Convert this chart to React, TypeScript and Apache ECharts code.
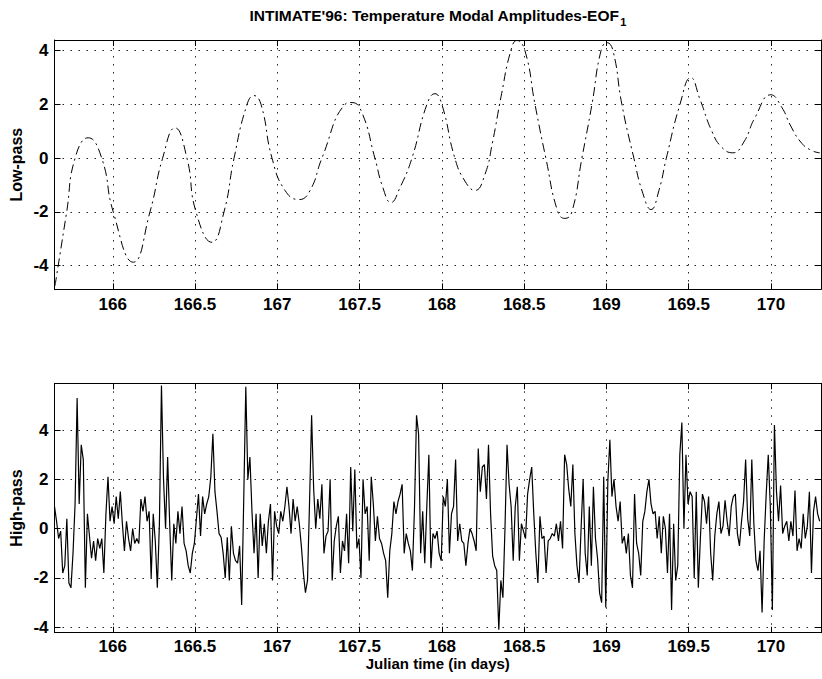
import React, { useEffect, useRef } from 'react';
import * as echarts from 'echarts';

// ---- axis ranges ----
const xMin = 165.646;
const xMax = 170.304;
const lowYMin = -4.878;
const lowYMax = 4.398;
const highYMin = -4.219;
const highYMax = 5.894;

// ---- labels ----
const titleMain = "INTIMATE'96: Temperature Modal Amplitudes-EOF";
const titleSub = '1';
const lowLabel = 'Low-pass';
const highLabel = 'High-pass';
const xLabel = 'Julian time (in days)';

// ---- low-pass series (Julian day, amplitude) ----
const lowTimes = [
  165.649, 165.72, 165.771, 165.851, 165.933, 166.003, 166.125, 166.226, 166.303, 166.378,
  166.451, 166.506, 166.603, 166.676, 166.737, 166.816, 166.858, 166.901, 166.968, 167.047,
  167.132, 167.199, 167.271, 167.411, 167.454, 167.514, 167.593, 167.642, 167.69, 167.745,
  167.818, 167.909, 167.958, 168.0, 168.079, 168.14, 168.201, 168.262, 168.308, 168.36,
  168.419, 168.456, 168.505, 168.566, 168.632, 168.705, 168.748, 168.79, 168.851, 168.912,
  168.967, 169.003, 169.04, 169.094, 169.167, 169.221, 169.271, 169.319, 169.364, 169.447,
  169.513, 169.568, 169.641, 169.702, 169.768, 169.835, 169.902, 169.999, 170.065, 170.12,
  170.181, 170.242, 170.297,
];
const lowValues = [
  -4.75, -2, 0, 0.76, 0, -2, -3.87, -2, 0, 1.13,
  0, -2, -3.13, -2, 0, 2, 2.33, 2, 0, -1.2,
  -1.54, -1.2, 0, 2, 2.07, 1.7, 0, -1.1, -1.65, -1.1,
  0, 2, 2.4, 2, 0, -0.85, -1.2, -0.6, 0.6, 2.3,
  4, 4.38, 4, 2, 0, -2, -2.24, -2, 0, 2,
  4, 4.3, 4, 2, 0, -1.3, -1.91, -1.2, 0, 2,
  3.0, 2.2, 1.0, 0.4, 0.2, 0.6, 1.5, 2.36, 1.9, 1.2,
  0.6, 0.3, 0.2,
];

// ---- high-pass series: samples every 0.0125 day from highStart ----
const highStart = 165.646;
const highStep = 0.0125;
const highValues = [
  0.9, 0.3, -0.4, -0.1, -1.8, -1.5, 0.4, -2.2, -2.4, -1.0,
  1.0, 5.3, 1.0, 3.4, 2.8, -2.4, 0.6, -0.3, -1.2, -0.5,
  -1.3, -0.4, -0.8, -0.4, -1.8, 0.6, 2.1, 0.3, 0.9, 0.2,
  1.3, 0.4, 1.5, 0.2, -0.9, 0.3, -0.4, -0.9, 0.0, -0.6,
  -0.4, -0.6, 1.2, 0.7, 1.3, 0.3, 0.7, -2.0, 0.6, -0.5,
  -2.4, 0.2, 5.8, 2.0, 0.0, 2.9, 0.2, -2.1, 0.2, -0.6,
  0.7, -0.2,
  0.9, -0.6, -0.9, -1.5, -1.8, -1.0, -0.6, 0.4, 1.4, -0.3,
  1.3, 0.6, 1.0, 1.3, 2.1, 3.85, 1.5, 0.7, -0.2, -0.35,
  -1.0, -2.0, -0.35, -2.1, 0.1, -1.0, -1.3, -1.4, -0.7, -3.1,
  1.2, 5.75, 2.0, 2.9, 0.7, -1.0, 0.6, -2.0, 0.6, -0.7,
  0.2, -1.0, 0.3, 1.0, -2.1, 0.7, 0.1, -0.2, 0.7, 0.3,
  0.9, 1.7, 0.9, -0.2, 1.2, 0.3, 0.9, 0.2, -0.7, -1.8,
  -2.6, -2.1, 1.1,
  4.6, 1.6, 0.0, 1.2, 0.4, 1.8, -1.0, -0.3, -0.1, 2.0,
  -2.1, -0.5, 0.1, 0.5, -1.8, -0.5, -0.9, 0.6, -1.4, 2.5,
  -0.1, 2.4, -0.8, -0.4, -2.0, 2.0, 0.6, 0.9, -1.3, 2.1,
  1.0, -0.5, 0.5, -0.4, -0.6, -1.0, -1.3, -2.8, -0.9, -0.2,
  1.1, 0.6, 1.1, 1.4, 1.8, -1.0, -0.2, -0.6, -0.9, -1.7,
  0.8, 4.6, 3.85, -1.0, 0.7, -1.4, 0.9, 3.0, -1.6, -0.2,
  -0.4,
  -0.1, -1.0, -1.3, 1.3, 0.9, 2.0, -1.0, 0.6, 0.9, 2.8,
  -0.5, 0.2, -0.5, -0.6, -1.5, -0.6, 0.0, -0.2, -0.5, -0.9,
  3.25, 1.5, 2.5, 2.6, 1.2, 3.4, 0.6, -1.1, -1.5, -1.7,
  -4.1, -2.1, -2.8, 0.0, 3.4, 1.8, 0.9, -1.3, 0.9, 1.7,
  -1.3, 0.2, -0.1, -0.4, 1.4, 2.0, 2.5, 0.6, -1.0, -2.2,
  0.5, -0.4, -0.3, -1.8, -0.5, -0.4, -0.2, -0.3, 0.2, -0.5,
  0.3,
  -0.8, 3.0, 2.6, 1.6, 0.9, 2.6, -0.2, -1.5, -2.2, 0.0,
  2.0, -1.0, -1.9, 0.9, -1.5, 1.7, -0.4, -1.2, -2.6, -3.0,
  2.1, -3.2, 1.9, 3.6, 1.3, 2.0, 0.9, 0.3, 1.1, -0.6,
  -0.3, -1.0, -0.2, -1.9, -2.4, 1.4, -0.6, -1.0, -1.9, 0.3,
  0.7, 1.5, 2.0, 1.0, 0.6, 0.7, -0.4, 0.5, -1.0, 0.5,
  0.0, -1.8, 0.6, -3.3, 0.2, -2.1, -1.5, 3.0, 4.3, 0.0,
  3.0,
  1.0, 1.5, 1.3, -2.0, 1.5, -2.4, -0.4, 1.4, 1.1, 0.2,
  1.3, -1.0, -2.1, -0.3, 0.6, 1.1, -0.2, 0.1, 1.15, 0.3,
  -0.3, 0.9, 1.3, 1.4, -0.2, -0.7, 0.3, 1.1, 2.8, 0.4,
  -0.3, 2.8, 0.2, -1.3, -1.7, -0.9, -3.4, -0.5, 1.4, 3.0,
  0.9, -3.3, 4.2, 1.5, 0.3, 1.75, -0.2, 0.1, 0.3, -0.5,
  0.3, -0.3, 1.55, -0.9, -0.4, -0.8, 0.6, -0.4, 0.1, 1.5,
  -1.8, 0.7, 1.3, 0.6, 0.3,
];

const FONT = "'Liberation Sans', Arial, Helvetica, sans-serif";

function buildOption() {
  const lineStyle = { color: '#000', width: 1 };
  const gridLine = { show: true, lineStyle: { color: '#000', width: 1, type: [1.5, 6.5] as any, opacity: 0.85 } };
  const tickLabel = {
    color: '#000',
    fontSize: 17,
    fontWeight: 'bold' as const,
    fontFamily: FONT,
    showMinLabel: false,
    showMaxLabel: false,
  };

  const makeX = (gridIndex: number, primary: boolean, margin: number) => ({
    type: 'value',
    gridIndex,
    min: xMin,
    max: xMax,
    splitNumber: 9,
    position: primary ? 'bottom' : 'top',
    axisLine: { show: true, onZero: false, lineStyle },
    axisTick: { show: true, inside: true, length: 6, lineStyle },
    axisLabel: primary ? { ...tickLabel, margin } : { show: false },
    splitLine: primary ? gridLine : { show: false },
  });
  const makeY = (gridIndex: number, primary: boolean, min: number, max: number) => ({
    type: 'value',
    gridIndex,
    min,
    max,
    splitNumber: 5,
    position: primary ? 'left' : 'right',
    axisLine: { show: true, onZero: false, lineStyle },
    axisTick: { show: true, inside: true, length: 6, lineStyle },
    axisLabel: primary ? { ...tickLabel, margin: 6 } : { show: false },
    splitLine: primary ? gridLine : { show: false },
  });

  const lowData = lowTimes.map((t, i) => [t, lowValues[i]]);
  const highData = highValues.map((v, i) => [highStart + i * highStep, v]);

  return {
    animation: false,
    backgroundColor: '#fff',
    grid: [
      { left: 54.5, top: 40, width: 766.5, height: 249.3, outerBoundsMode: 'none' },
      { left: 54.5, top: 383.3, width: 766.5, height: 249.4, outerBoundsMode: 'none' },
    ],
    xAxis: [makeX(0, true, 7), makeX(0, false, 0), makeX(1, true, 5), makeX(1, false, 0)],
    yAxis: [
      makeY(0, true, lowYMin, lowYMax),
      makeY(0, false, lowYMin, lowYMax),
      makeY(1, true, highYMin, highYMax),
      makeY(1, false, highYMin, highYMax),
    ],
    series: [
      {
        type: 'line',
        xAxisIndex: 0,
        yAxisIndex: 0,
        data: lowData,
        showSymbol: false,
        smooth: 0.5,
        lineStyle: { color: '#000', width: 1, type: [9, 4, 2, 4] },
      },
      {
        type: 'line',
        xAxisIndex: 2,
        yAxisIndex: 2,
        data: highData,
        showSymbol: false,
        lineStyle: { color: '#000', width: 1.2 },
      },
    ],
    graphic: [
      {
        type: 'text',
        x: 437.75,
        y: 7,
        style: {
          text: `{a|${titleMain}}{s|${titleSub}}`,
          align: 'center',
          verticalAlign: 'top',
          rich: {
            a: { fontSize: 15.5, fontWeight: 'bold', fontFamily: FONT, fill: '#000', lineHeight: 17, verticalAlign: 'top' },
            s: { fontSize: 11, fontWeight: 'bold', fontFamily: FONT, fill: '#000', lineHeight: 11, padding: [9.5, 0, 0, 1], verticalAlign: 'top' },
          },
        },
      },
      {
        type: 'text',
        x: 16.5,
        y: 164.7,
        rotation: Math.PI / 2,
        style: { text: lowLabel, align: 'center', verticalAlign: 'middle', fontSize: 16, fontWeight: 'bold', fontFamily: FONT, fill: '#000' },
      },
      {
        type: 'text',
        x: 16.5,
        y: 508,
        rotation: Math.PI / 2,
        style: { text: highLabel, align: 'center', verticalAlign: 'middle', fontSize: 16, fontWeight: 'bold', fontFamily: FONT, fill: '#000' },
      },
      {
        type: 'text',
        x: 437.75,
        y: 663.5,
        style: { text: xLabel, align: 'center', verticalAlign: 'middle', fontSize: 15, fontWeight: 'bold', fontFamily: FONT, fill: '#000' },
      },
    ],
  };
}

export default function App() {
  const ref = useRef<HTMLDivElement>(null);
  useEffect(() => {
    if (!ref.current) return;
    const chart = echarts.init(ref.current, undefined, { renderer: 'svg' });
    chart.setOption(buildOption() as any);
    return () => chart.dispose();
  }, []);
  return (
    <div
      ref={ref}
      style={{ position: 'fixed', left: 0, top: 0, width: 822, height: 679, background: '#fff' }}
    />
  );
}
